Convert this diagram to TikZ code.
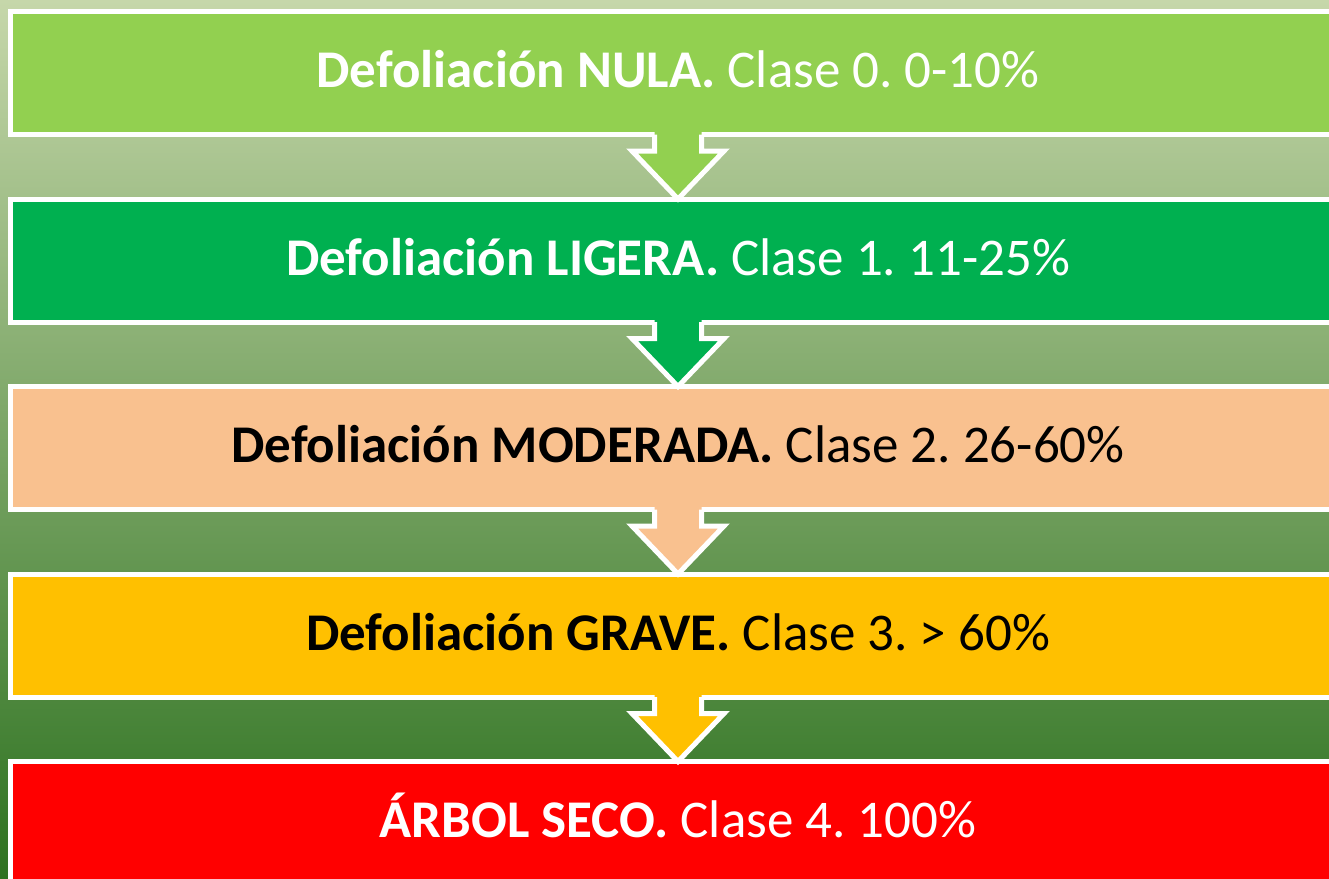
\documentclass[tikz,border=0pt]{standalone}
\usepackage{fontspec}
\setmainfont{Carlito}
\usetikzlibrary{calc}
\frenchspacing

\definecolor{nula}{HTML}{92D050}
\definecolor{ligera}{HTML}{00B050}
\definecolor{moderada}{HTML}{F9C18F}
\definecolor{grave}{HTML}{FFC000}
\definecolor{seco}{HTML}{FF0000}
\definecolor{fondoarriba}{HTML}{C6D7AA}
\definecolor{fondoabajo}{HTML}{2D7220}

\tikzset{
  clase/.style={draw=white, line width=5pt, outer sep=0pt, inner sep=0pt,
    minimum width=1335pt, minimum height=123pt, text height=29pt, text depth=0pt,
    font=\fontsize{53}{60}\selectfont},
  flecha/.style={draw=white, line width=5pt, line join=miter},
}

\begin{document}
\begin{tikzpicture}[x=1pt, y=-1pt]
  \shade[top color=fondoarriba, bottom color=fondoabajo] (0,0) rectangle (1329,878);
  \useasboundingbox (0,0) rectangle (1329,878);
  \clip (0,0) rectangle (1329,878);

  \node[clase, fill=nula, text=white] (c0) at (678,73) {\textbf{Defoliación NULA.} Clase 0. 0-10\%};
  \node[clase, fill=ligera, text=white] (c1) at (678,260.5) {\textbf{Defoliación LIGERA.} Clase 1. 11-25\%};
  \node[clase, fill=moderada, text=black] (c2) at (678,448) {\textbf{Defoliación MODERADA.} Clase 2. 26-60\%};
  \node[clase, fill=grave, text=black] (c3) at (678,635.5) {\textbf{Defoliación GRAVE.} Clase 3. > 60\%};
  \node[clase, fill=seco, text=white] (c4) at (678,823) {\textbf{ÁRBOL SECO.} Clase 4. 100\%};

  \foreach \de/\a/\relleno in {c0/c1/nula, c1/c2/ligera, c2/c3/moderada, c3/c4/grave} {
    \fill[\relleno] ($(\de.south)+(-23.5,-3)$) -- ($(\de.south)+(-23.5,16.5)$)
      -- ($(\de.south)+(-46,16.5)$) -- (\a.north) -- ($(\de.south)+(46,16.5)$)
      -- ($(\de.south)+(23.5,16.5)$) -- ($(\de.south)+(23.5,-3)$) -- cycle;
    \draw[flecha] ($(\de.south)+(-23.5,0)$) -- ($(\de.south)+(-23.5,16.5)$)
      -- ($(\de.south)+(-46,16.5)$) -- (\a.north) -- ($(\de.south)+(46,16.5)$)
      -- ($(\de.south)+(23.5,16.5)$) -- ($(\de.south)+(23.5,0)$);
  }
\end{tikzpicture}
\end{document}
